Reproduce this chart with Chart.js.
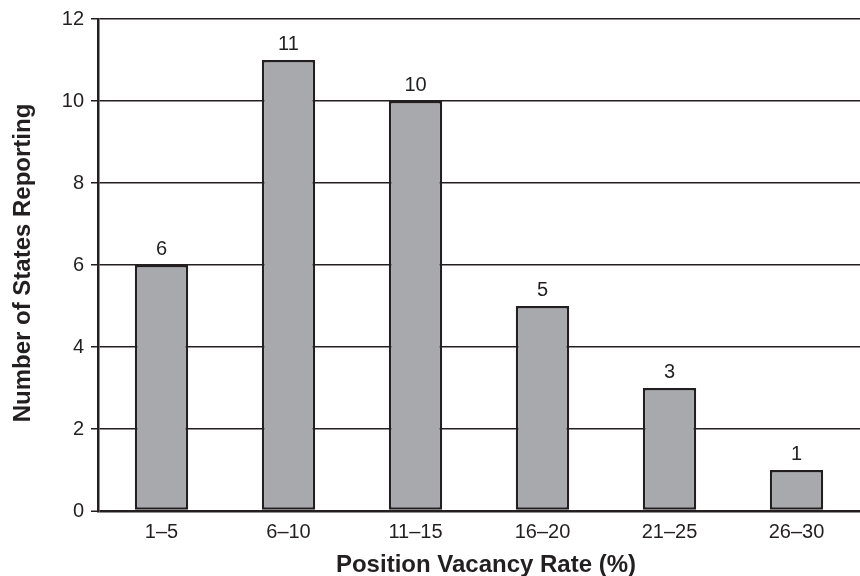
<!DOCTYPE html>
<html>
<head>
<meta charset="utf-8">
<script src="https://cdn.jsdelivr.net/npm/chart.js@4/dist/chart.umd.min.js"></script>
<style>
html,body{margin:0;padding:0;background:#fff;}
#wrap{width:860px;height:576px;position:relative;}
</style>
</head>
<body>
<div id="wrap"><canvas id="c" width="860" height="576"></canvas></div>
<script>
const categories = ["1\u20135", "6\u201310", "11\u201315", "16\u201320", "21\u201325", "26\u201330"];
const statesReporting = [6, 11, 10, 5, 3, 1];
const yTicks = [0, 2, 4, 6, 8, 10, 12];
const xTitle = "Position Vacancy Rate (%)";
const yTitle = "Number of States Reporting";

const FONT = "'Liberation Sans', Arial, Helvetica, sans-serif";
const INK = '#231f20';

const valueLabels = {
  id: 'valueLabels',
  afterDatasetsDraw(chart) {
    const ctx = chart.ctx;
    const meta = chart.getDatasetMeta(0);
    ctx.save();
    ctx.font = "20px " + FONT;
    ctx.fillStyle = INK;
    ctx.textAlign = "center";
    ctx.textBaseline = "alphabetic";
    meta.data.forEach((bar, i) => {
      ctx.fillText(String(statesReporting[i]), bar.x, bar.y - 10);
    });
    ctx.restore();
  }
};

const axisTitles = {
  id: 'axisTitles',
  afterDraw(chart) {
    const ctx = chart.ctx;
    const area = chart.chartArea;
    ctx.save();
    ctx.font = "bold 24px " + FONT;
    ctx.fillStyle = INK;
    ctx.textAlign = "center";
    ctx.textBaseline = "alphabetic";
    // x-axis title (sits slightly right of plot centre in the reference)
    ctx.fillText(xTitle, (area.left + area.right) / 2 + 7, chart.height - 4);
    // y-axis title
    ctx.translate(30, (area.top + area.bottom) / 2 - 2);
    ctx.rotate(-Math.PI / 2);
    ctx.fillText(yTitle, 0, 0);
    ctx.restore();
  }
};

new Chart(document.getElementById('c'), {
  type: 'bar',
  data: {
    labels: categories,
    datasets: [{
      data: statesReporting,
      backgroundColor: '#a7a9ac',
      borderColor: INK,
      borderWidth: 2.5,
      borderSkipped: false,
      categoryPercentage: 1.0,
      barPercentage: 0.42
    }]
  },
  options: {
    responsive: false,
    animation: false,
    devicePixelRatio: 1,
    layout: { padding: { top: 17, right: -4, left: 0, bottom: 0 } },
    plugins: { legend: { display: false }, tooltip: { enabled: false } },
    scales: {
      x: {
        grid: { display: false, drawTicks: false },
        border: { display: false },
        ticks: { color: INK, font: { family: FONT, size: 20 }, padding: 9 },
        title: { display: false },
        afterFit(s) { s.height = 65; }
      },
      y: {
        min: 0, max: 12,
        afterBuildTicks(s) { s.ticks = yTicks.map(v => ({ value: v })); },
        grid: {
          color: INK,
          lineWidth: (c) => (c.tick && c.tick.value === 0 ? 2.5 : 1.5),
          tickLength: 7, drawTicks: true, tickColor: INK, tickWidth: 1.5
        },
        border: { display: true, color: INK, width: 2.5 },
        ticks: { color: INK, font: { family: FONT, size: 20 }, padding: 7 },
        title: { display: false },
        afterFit(s) { s.width = 98; }
      }
    }
  },
  plugins: [valueLabels, axisTitles]
});
</script>
</body>
</html>
